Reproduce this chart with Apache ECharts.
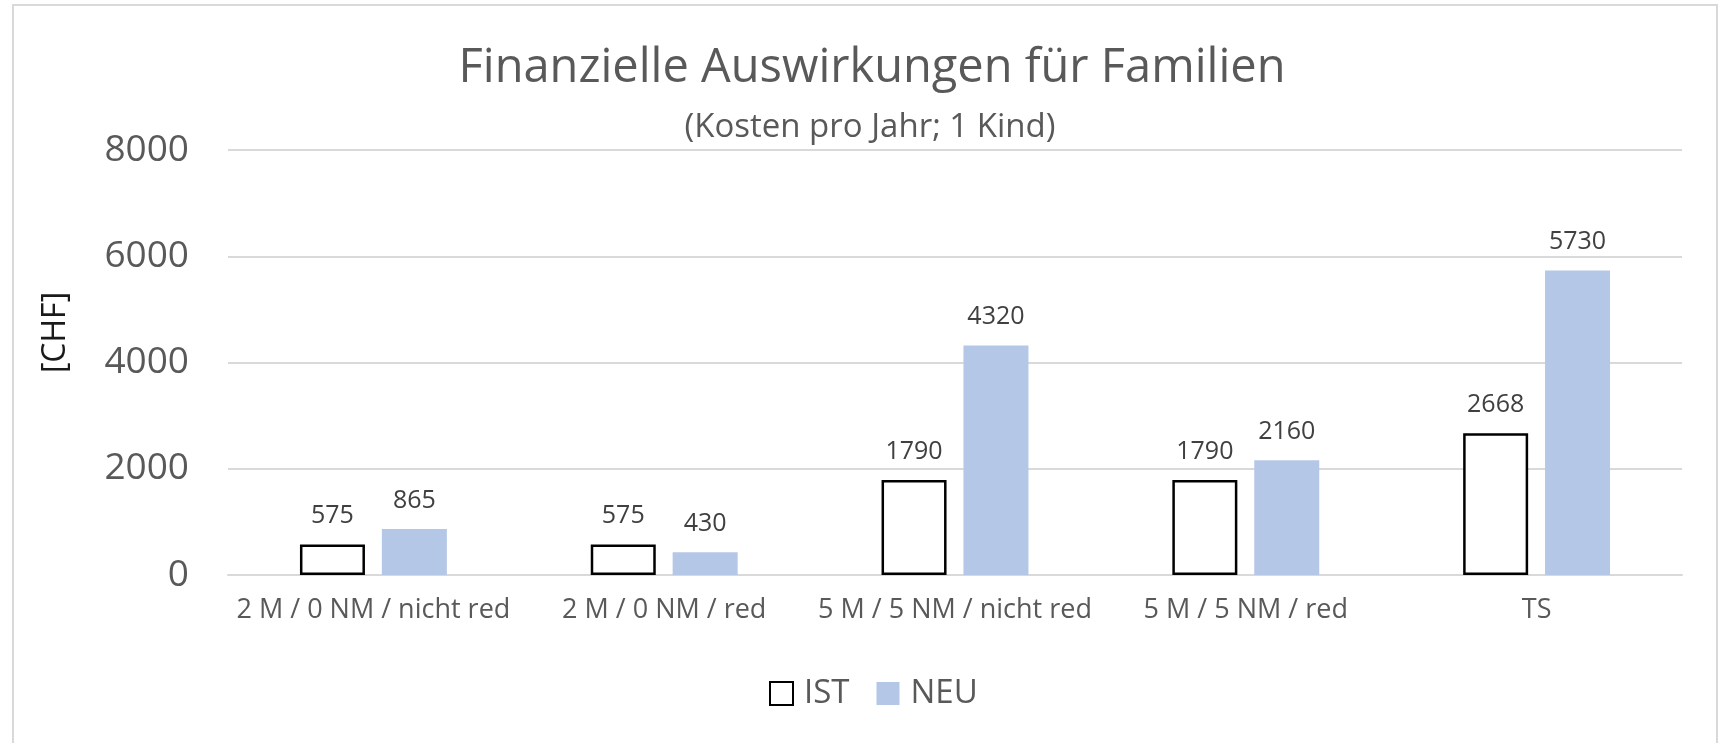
<!DOCTYPE html>
<html>
<head>
<meta charset="utf-8">
<title>Finanzielle Auswirkungen für Familien</title>
<script src="https://cdn.jsdelivr.net/npm/echarts@6/dist/echarts.min.js"></script>
<style>
  html, body { margin: 0; padding: 0; background: #fff; }
  #chart { width: 1721px; height: 743px; }
</style>
</head>
<body>
<div id="chart"></div>
<script>
// categories and values
var categories = ['2 M / 0 NM / nicht red', '2 M / 0 NM / red', '5 M / 5 NM / nicht red', '5 M / 5 NM / red', 'TS'];
var istValues = [575, 575, 1790, 1790, 2668];
var neuValues = [865, 430, 4320, 2160, 5730];
var yTicks = [0, 2000, 4000, 6000, 8000];

var font = '"Open Sans", "Noto Sans", sans-serif';
var grey = '#595959';

var chart = echarts.init(document.getElementById('chart'));

var labelStyle = {
  show: true,
  position: 'top',
  distance: 16,
  fontFamily: font,
  fontSize: 25,
  color: '#404040'
};

chart.setOption({
  animation: false,
  // outer frame of the chart area
  graphic: [{
    type: 'rect',
    z: -10,
    shape: { x: 13, y: 5, width: 1704, height: 800 },
    style: { fill: 'none', stroke: '#d9d9d9', lineWidth: 2 }
  }],
  title: [{
    text: 'Finanzielle Auswirkungen für Familien',
    left: 867,
    top: 40,
    textAlign: 'center',
    textStyle: { fontFamily: font, fontSize: 47, fontWeight: 'normal', color: grey }
  }, {
    text: '(Kosten pro Jahr; 1 Kind)',
    left: 865,
    top: 106,
    textAlign: 'center',
    textStyle: { fontFamily: font, fontSize: 33, fontWeight: 'normal', color: grey }
  }],
  legend: {
    left: 764,
    top: 672,
    itemWidth: 23,
    itemHeight: 23,
    itemGap: 27,
    icon: 'rect',
    textStyle: { fontFamily: font, fontSize: 33, color: grey, padding: [0, 0, 0, 6] },
    data: ['IST', 'NEU']
  },
  grid: { left: 228, right: 39, top: 150, bottom: 168 },
  xAxis: {
    type: 'category',
    data: categories,
    axisLine: { lineStyle: { color: '#d9d9d9', width: 2 } },
    axisTick: { show: false },
    axisLabel: { interval: 0, fontFamily: font, fontSize: 27, color: grey, margin: 22 }
  },
  yAxis: {
    type: 'value',
    min: yTicks[0],
    max: yTicks[yTicks.length - 1],
    interval: 2000,
    name: '[CHF]',
    nameLocation: 'middle',
    nameGap: 156,
    nameTextStyle: { fontFamily: font, fontSize: 32, color: '#1a1a1a', padding: [0, 0, 0, 60] },
    axisLine: { show: false },
    axisTick: { show: false },
    axisLabel: {
      fontFamily: font, fontSize: 37, color: grey, margin: 39,
      formatter: function (v) { return String(v); }
    },
    splitLine: { lineStyle: { color: '#d9d9d9', width: 2 } }
  },
  series: [{
    name: 'IST',
    type: 'bar',
    barWidth: 65,
    barGap: '26%',
    data: istValues,
    itemStyle: { color: '#ffffff', borderColor: '#000000', borderWidth: 2.5 },
    label: labelStyle
  }, {
    name: 'NEU',
    type: 'bar',
    barWidth: 65,
    barGap: '26%',
    data: neuValues,
    itemStyle: { color: '#b4c7e7' },
    label: labelStyle
  }]
});
</script>
</body>
</html>
